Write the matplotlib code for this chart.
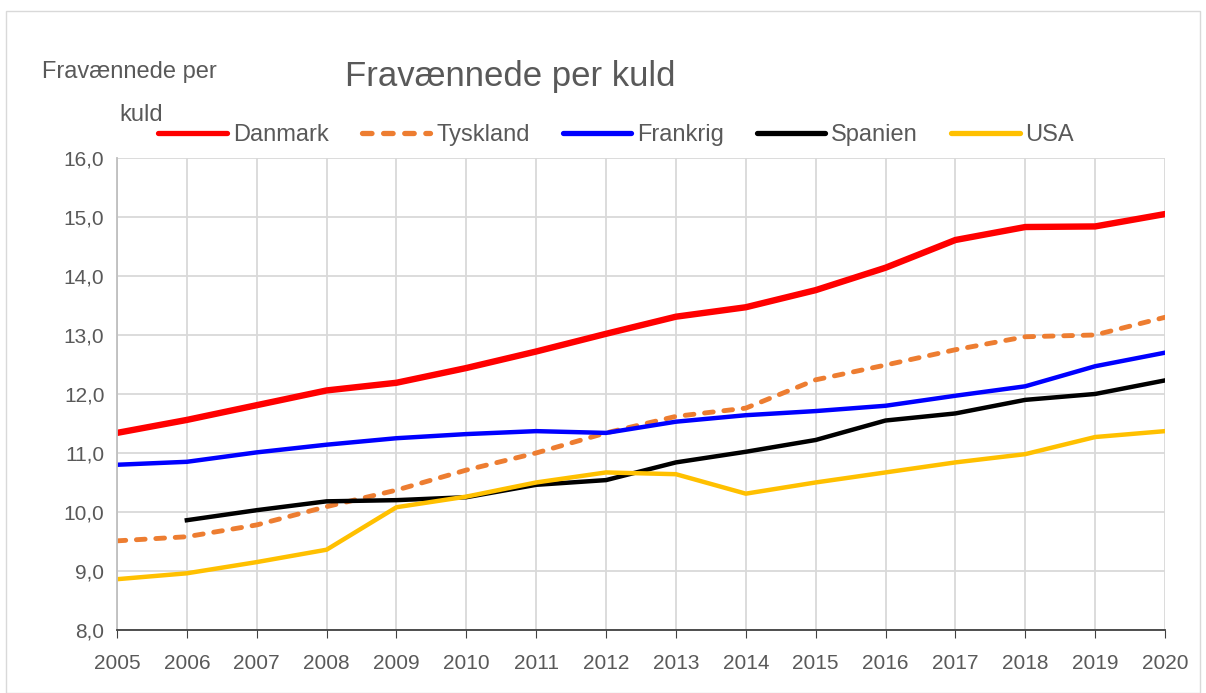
import matplotlib.pyplot as plt
from matplotlib.patches import Rectangle
from matplotlib.ticker import FuncFormatter

plt.rcParams['font.family'] = ['Liberation Sans', 'DejaVu Sans']

# Data
years = list(range(2005, 2021))
danmark = [11.34, 11.56, 11.81, 12.06, 12.19, 12.44, 12.72, 13.02, 13.31, 13.47, 13.76,
           14.14, 14.61, 14.83, 14.84, 15.05]
tyskland = [9.51, 9.58, 9.78, 10.09, 10.37, 10.71, 11.0, 11.34, 11.62, 11.76, 12.24,
            12.49, 12.75, 12.97, 13.0, 13.3]
frankrig = [10.8, 10.85, 11.01, 11.14, 11.25, 11.32, 11.37, 11.34, 11.53, 11.64, 11.71,
            11.8, 11.97, 12.13, 12.47, 12.7]
spanien_years = list(range(2006, 2021))
spanien = [9.86, 10.03, 10.18, 10.2, 10.25, 10.46, 10.54, 10.84, 11.02, 11.22, 11.55,
           11.67, 11.9, 12.0, 12.23]
usa = [8.86, 8.96, 9.15, 9.36, 10.08, 10.26, 10.5, 10.67, 10.64, 10.31, 10.5,
       10.67, 10.84, 10.98, 11.27, 11.37]

grey = '#595959'

fig = plt.figure(figsize=(12.06, 6.93), dpi=100)
ax = fig.add_axes([0.097, 0.091, 0.869, 0.681])

ax.plot(years, danmark, color='#ff0000', lw=4.6, label='Danmark', solid_capstyle='round')
ax.plot(years, tyskland, color='#ed7d31', lw=3.5, ls=(0, (1.8, 2.2)), dash_capstyle='round',
        label='Tyskland')
ax.plot(years, frankrig, color='#0000ff', lw=3.2, label='Frankrig')
ax.plot(spanien_years, spanien, color='#000000', lw=3.2, label='Spanien')
ax.plot(years, usa, color='#ffc000', lw=3.2, label='USA')

ax.set_xlim(2005, 2020)
ax.set_ylim(8, 16)
ax.set_xticks(years)
ax.set_yticks(range(8, 17))
ax.yaxis.set_major_formatter(FuncFormatter(lambda v, p: f'{v:.1f}'.replace('.', ',')))
ax.grid(True, color='#d9d9d9', lw=1.3)
ax.set_axisbelow(True)
for s in ['top', 'right']:
    ax.spines[s].set_visible(False)
ax.spines['left'].set_color('#bfbfbf')
ax.spines['left'].set_linewidth(1.3)
ax.spines['bottom'].set_color('#404040')
ax.spines['bottom'].set_linewidth(1.3)
ax.tick_params(axis='y', length=0, labelsize=15, labelcolor=grey, pad=9)
ax.tick_params(axis='x', direction='out', length=6, color='#404040', labelsize=15,
               labelcolor=grey, pad=11)

leg = fig.legend(loc='center', bbox_to_anchor=(0.511, 0.805), ncol=5, frameon=False,
                 fontsize=17, labelcolor=grey, handlelength=2.9, handletextpad=0.25,
                 columnspacing=1.4)
for h in leg.get_lines():
    h.set_linewidth(3.8)
    h.set_solid_capstyle('round')

fig.text(0.423, 0.89, 'Fravænnede per kuld', fontsize=25, color=grey, ha='center', va='center')
fig.text(0.035, 0.896, 'Fravænnede per', fontsize=17, color=grey, ha='left', va='center')
fig.text(0.099, 0.834, 'kuld', fontsize=17, color=grey, ha='left', va='center')

fig.add_artist(Rectangle((0.005, 0.0), 0.99, 0.984, transform=fig.transFigure,
                         fill=False, edgecolor='#d9d9d9', lw=1))

fig.savefig('out.png', dpi=100)
